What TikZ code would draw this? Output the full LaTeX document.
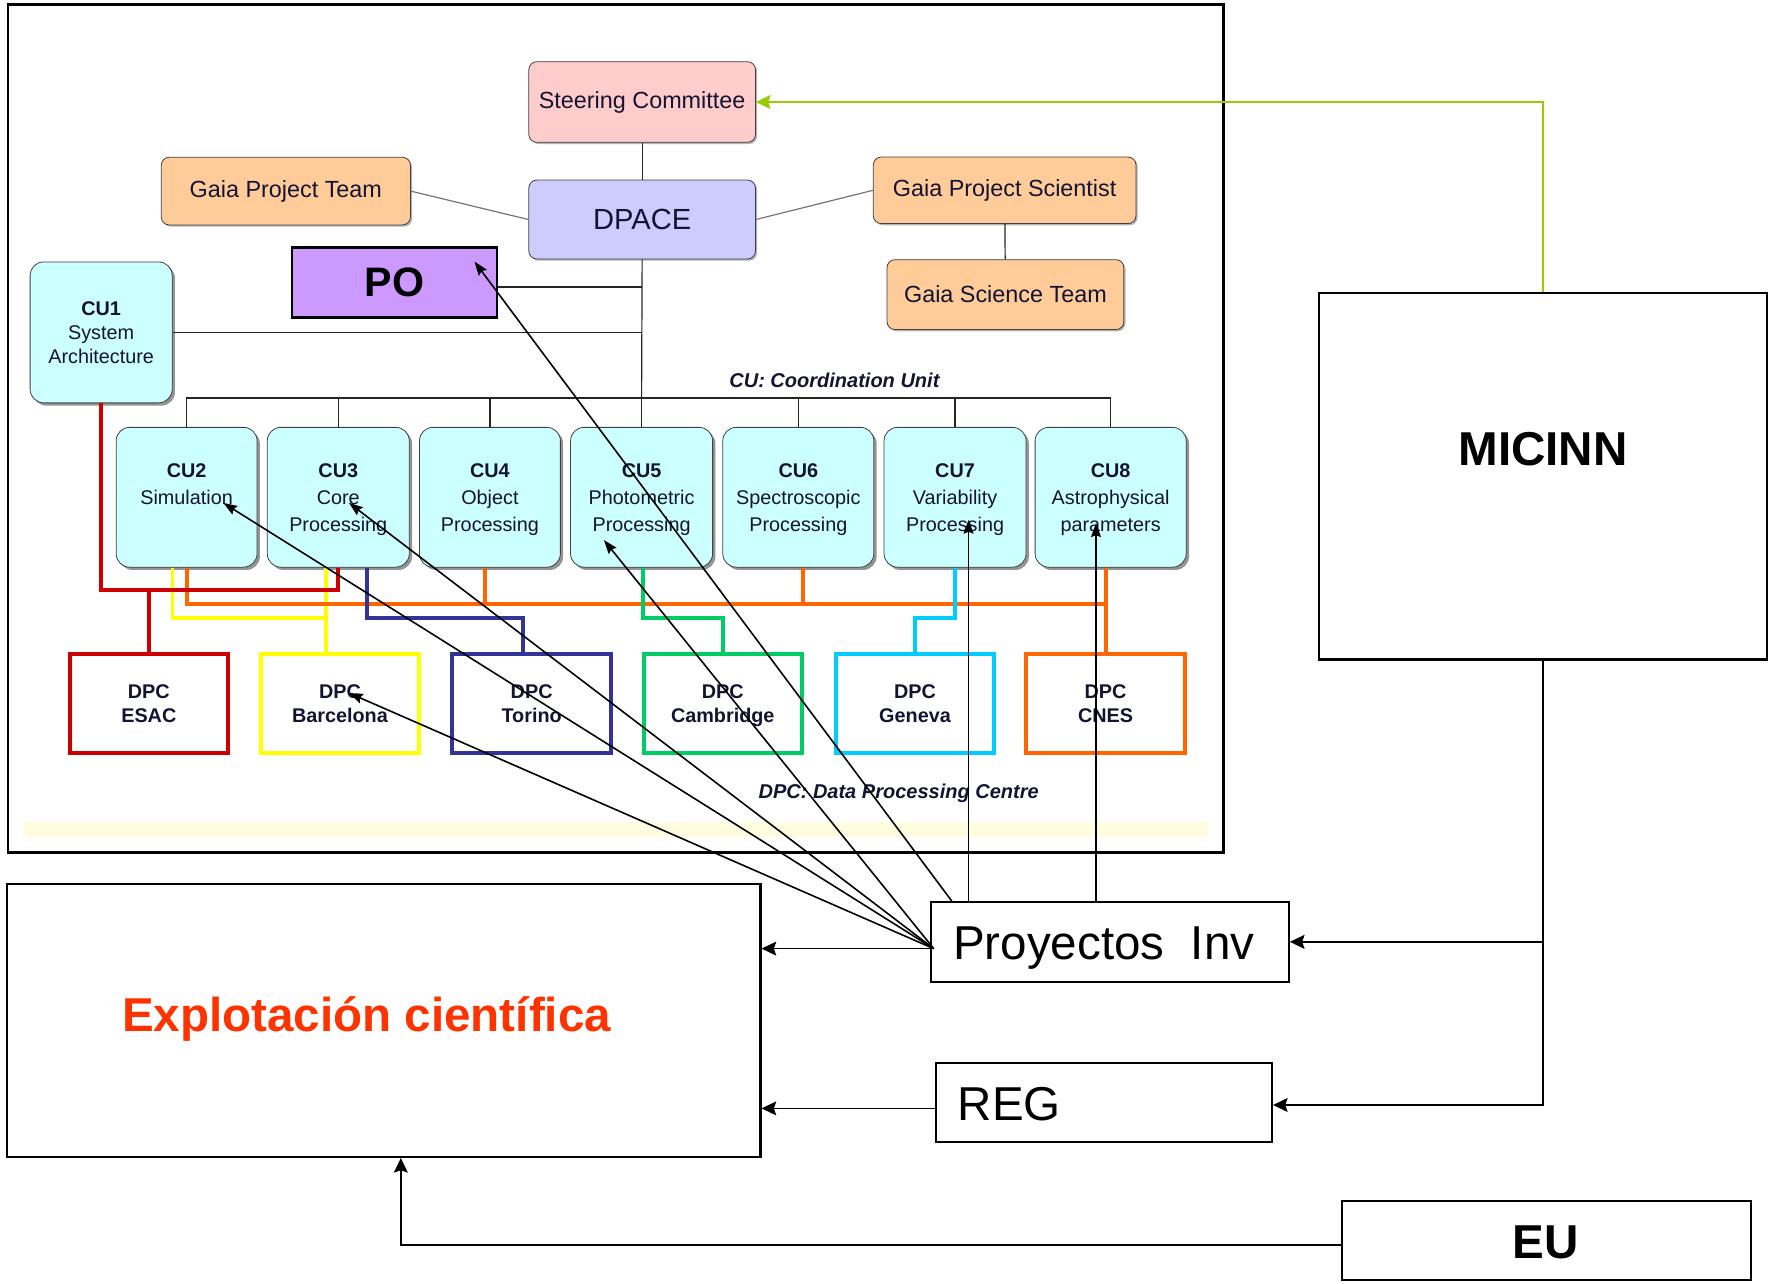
\documentclass[tikz,border=0pt]{standalone}
\usepackage{fontspec}
\setmainfont{Liberation Sans}
\usetikzlibrary{arrows.meta,shadows,calc}

\definecolor{steerfill}{HTML}{FFCCCC}
\definecolor{dpacefill}{HTML}{CCCCFF}
\definecolor{teamfill}{HTML}{FFCC99}
\definecolor{pofill}{HTML}{CC99FF}
\definecolor{cufill}{HTML}{CCFFFF}
\definecolor{gaiatext}{HTML}{141432}
\definecolor{dpcred}{HTML}{CC0000}
\definecolor{dpcyellow}{HTML}{FFFF00}
\definecolor{dpcblue}{HTML}{333399}
\definecolor{dpcgreen}{HTML}{00CC66}
\definecolor{dpccyan}{HTML}{00CCFF}
\definecolor{dpcorange}{HTML}{FF6600}
\definecolor{explred}{HTML}{FF3300}
\definecolor{micinngreen}{HTML}{99CC00}
\definecolor{bandyellow}{HTML}{FFFCE0}

\begin{document}
\begin{tikzpicture}
[x=0.02cm,y=-0.02cm,%
  gaiabox/.style={draw=black!75,thin,rounded corners=0.14cm,inner sep=0pt,
    text=gaiatext,font={\fontsize{11.8}{14}\selectfont},
    drop shadow={shadow xshift=0.03cm,shadow yshift=-0.03cm,fill=black!50,opacity=0.6}},%
  cubox/.style={draw=black!75,thin,fill=cufill,rounded corners=0.24cm,inner sep=0pt,
    align=center,text=gaiatext,font={\fontsize{10}{13.7}\selectfont},minimum height=2.48cm,
    text depth=0pt,
    drop shadow={shadow xshift=0.05cm,shadow yshift=-0.05cm,fill=black!60,opacity=0.7}},%
  pobox/.style={draw,line width=1.2pt,fill=pofill,inner sep=0pt,
    minimum width=3.64cm,minimum height=1.24cm,font={\fontsize{20.8}{24}\selectfont\bfseries}},%
  dpcbox/.style={draw=#1,line width=2pt,minimum width=2.81cm,minimum height=1.77cm,
    inner sep=0pt,align=center,text=gaiatext,text depth=0pt,
    font={\fontsize{10}{12}\selectfont\bfseries}},%
  link/.style={draw=#1,line width=2pt},%
  tree/.style={draw=black!85,line width=0.6pt},%
  bigbox/.style={draw,line width=1.1pt,inner sep=0pt},%
  bigtext/.style={inner sep=0pt,font={\fontsize{24}{28}\selectfont}},%
  caption/.style={inner sep=0pt,anchor=base,text=gaiatext,
    font={\fontsize{10.1}{12}\selectfont\bfseries\itshape}},%
  arr/.style={draw,line width=0.8pt,-{Stealth[length=7pt,width=5pt,inset=1pt]}},%
  bigarr/.style={draw,line width=0.85pt,-{Stealth[length=7.4pt,width=7pt,inset=1.2pt]}}]
\useasboundingbox (0,0) rectangle (1568,1138);

% Gaia DPAC chart
\draw[line width=1.1pt] (7,4) rectangle (1085,756);
\fill[bandyellow] (21,729) rectangle (1071,742);

\node[gaiabox,fill=steerfill,minimum width=4.02cm,minimum height=1.43cm] (steering) at (569.5,90.5) {Steering Committee};
\node[gaiabox,fill=dpacefill,minimum width=4.02cm,minimum height=1.4cm,font={\fontsize{14.7}{17}\selectfont}] (dpace) at (569.5,194.7) {DPACE};
\node[gaiabox,fill=teamfill,minimum width=4.42cm,minimum height=1.2cm] (team) at (253.5,169.5) {Gaia Project Team};
\node[gaiabox,fill=teamfill,minimum width=4.66cm,minimum height=1.18cm] (scientist) at (891,168.8) {Gaia Project Scientist};
\node[gaiabox,fill=teamfill,minimum width=4.2cm,minimum height=1.24cm] (science) at (891.7,261.3) {Gaia Science Team};
\node[pobox] (po) at (350,250.5) {PO};

\node[cubox,minimum width=2.52cm,minimum height=2.5cm,font={\fontsize{10}{12}\selectfont}] (cu1) at (89.7,294.8) {\textbf{CU1}\\System\\Architecture};
\node[cubox,minimum width=2.5cm] (cu2) at (165.5,441) {\textbf{CU2}\\Simulation\\\phantom{Processing}};
\node[cubox,minimum width=2.52cm] (cu3) at (300,441) {\textbf{CU3}\\Core\\Processing};
\node[cubox,minimum width=2.5cm] (cu4) at (434.5,441) {\textbf{CU4}\\Object\\Processing};
\node[cubox,minimum width=2.52cm] (cu5) at (569,441) {\textbf{CU5}\\Photometric\\Processing};
\node[cubox,minimum width=2.68cm] (cu6) at (708,441) {\textbf{CU6}\\Spectroscopic\\Processing};
\node[cubox,minimum width=2.52cm] (cu7) at (847,441) {\textbf{CU7}\\Variability\\Processing};
\node[cubox,minimum width=2.68cm] (cu8) at (985,441) {\textbf{CU8}\\Astrophysical\\parameters};

\node[dpcbox=dpcred] (esac) at (132,624) {DPC\\ESAC};
\node[dpcbox=dpcyellow] (barcelona) at (301.5,624) {DPC\\Barcelona};
\node[dpcbox=dpcblue] (torino) at (471.5,624) {DPC\\Torino};
\node[dpcbox=dpcgreen] (cambridge) at (641,624) {DPC\\Cambridge};
\node[dpcbox=dpccyan] (geneva) at (811.5,624) {DPC\\Geneva};
\node[dpcbox=dpcorange] (cnes) at (980.5,624) {DPC\\CNES};

\node[caption] (cucap) at (740,343.5) {CU: Coordination Unit};
\node[caption] (dpccap) at (797,708) {DPC: Data Processing Centre};

% tree lines
\coordinate (bus) at (569,353);
\draw[tree] (steering) -- (dpace);
\draw[tree,draw=black!55] (team.east) -- (dpace.west);
\draw[tree,draw=black!55] (dpace.east) -- (scientist.west);
\draw[tree] (scientist) -- (science);
\draw[tree] (dpace.south) -- (bus);
\coordinate (poe) at ($(po.east)+(0,4)$);
\draw[tree] (poe) -- (poe -| bus);
\draw[tree] (cu1.east) -- (cu1.east -| bus);
\draw[tree] (cu2.north) |- (bus) -| (cu8.north);
\foreach \n in {3,...,7}
  \draw[tree] (cu\n.north) -- (cu\n.north |- bus);

% coloured links CU -> DPC
\draw[link=dpcyellow] ($(cu2.south)+(-12.5,0)$) |- ($(barcelona.north)+(-12.5,-30)$);
\draw[link=dpcyellow] ($(cu3.south)+(-11,0)$) -- ($(barcelona.north)+(-12.5,0)$);
\draw[link=dpcorange] (cu2.south) |- ($(cu8.south)+(-4,32)$) -- ($(cu8.south)+(-4,0)$);
\draw[link=dpcorange] ($(cu4.south)+(-4.5,0)$) -- ++(0,32);
\draw[link=dpcorange] ($(cu6.south)+(4,0)$) -- ++(0,32);
\draw[link=dpcorange] (cnes.north) -- ++(0,-44.75);
\draw[link=dpcred] (cu1.south) |- ($(cu3.south)+(0,20)$) -- (cu3.south);
\draw[link=dpcred] (esac.north) -- ++(0,-56.75);
\draw[link=dpcblue] ($(cu3.south)+(25.5,0)$) |- ($(torino.north)+(-7.5,-30)$) -- ($(torino.north)+(-7.5,0)$);
\draw[link=dpcgreen] ($(cu5.south)+(1,0)$) |- ($(cambridge.north)+(0,-30)$) -- (cambridge.north);
\draw[link=dpccyan] (cu7.south) |- ($(geneva.north)+(0,-30)$) -- (geneva.north);

% funding side
\node[bigbox,minimum width=13.36cm,minimum height=4.84cm] (expl) at (340.5,905) {};
\node[bigbox,minimum width=6.34cm,minimum height=1.41cm] (proy) at (984.5,835.3) {};
\node[bigbox,minimum width=5.96cm,minimum height=1.4cm] (reg) at (979,978) {};
\node[bigbox,minimum width=7.26cm,minimum height=1.4cm] (eu) at (1371.5,1100) {};
\node[bigbox,minimum width=7.94cm,minimum height=6.5cm] (micinn) at (1368.5,422.5) {};

\node[bigtext,anchor=base west,text=explred,font={\fontsize{24}{28}\selectfont\bfseries}] (expltxt) at (108,914.5) {Explotación científica};
\node[bigtext,anchor=base west] (proytxt) at (845,850.6) {Proyectos\ \ Inv};
\node[bigtext,anchor=base west] (regtxt) at (849,993.4) {REG};
\node[bigtext,anchor=base,font={\fontsize{24}{28}\selectfont\bfseries}] (eutxt) at (1371,1116.3) {EU};
\node[bigtext,anchor=base,font={\fontsize{24}{28}\selectfont\bfseries}] (micinntxt) at (1368.5,413) {MICINN};

% arrows from Proyectos Inv
\coordinate (hub) at ($(proy.west)+(3,6)$);
\draw[arr] ($(proy.north west)+(19,0)$) -- ($(po.center)+(70.8,-18.5)$);
\draw[arr] (hub) -- ($(cu2.center)+(32.5,5)$);
\draw[arr] (hub) -- ($(cu3.center)+(9.5,5)$);
\draw[arr] (hub) -- ($(cu5.center)+(-33.4,38)$);
\draw[arr] (hub) -- ($(barcelona.center)+(8,-9.4)$);
\coordinate (cu7tip) at ($(cu7.center)+(12,20)$);
\coordinate (cu8tip) at ($(cu8.center)+(-13,23)$);
\draw[arr] (proy.north -| cu7tip) -- (cu7tip);
\draw[arr] (proy.north -| cu8tip) -- (cu8tip);

\draw[bigarr] (hub) -- (hub -| expl.east);
\coordinate (regw) at ($(reg.west)+(0,5)$);
\draw[bigarr] (regw) -- (regw -| expl.east);
\draw[bigarr] (micinn.south) |- (proy.east);
\coordinate (rege) at ($(reg.east)+(0,2)$);
\draw[bigarr] (micinn.south) |- (rege);
\coordinate (euw) at ($(eu.west)+(0,4)$);
\draw[bigarr] (euw) -| ($(expl.south)+(15,0)$);
\draw[bigarr,draw=micinngreen,line width=1pt] (micinn.north) |- (steering.east);
\end{tikzpicture}
\end{document}
